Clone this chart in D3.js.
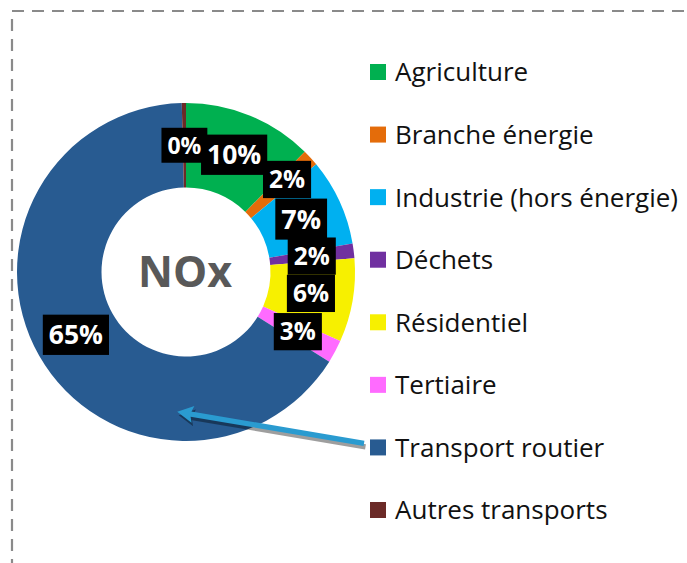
<!DOCTYPE html>
<html><head><meta charset="utf-8">
<script src="https://cdn.jsdelivr.net/npm/d3@7"></script>
<style>
html,body{margin:0;padding:0;background:#fff;}
svg{display:block;}
</style></head>
<body>
<svg id="chart" width="687" height="563"></svg>
<script>
// ---- data ----
const categories = ["Agriculture","Branche énergie","Industrie (hors énergie)","Déchets","Résidentiel","Tertiaire","Transport routier","Autres transports"];
const shares = [12.4, 1.6, 8.3, 1.4, 8.0, 2.2, 65.7, 0.4];
const shareLabels = ["10%","2%","7%","2%","6%","3%","65%","0%"];
const centerTitle = "NOx";
const colors = ["#00b050","#e46c0a","#00b0f0","#7030a0","#f7f000","#ff6bff","#285b91","#6b2a27"];

// ---- drawing ----
const W = 687, H = 563;
const svg = d3.select("#chart");
const cx = 186, cy = 272, R = 169, r0 = 84.5;
const font = "'Open Sans', sans-serif";

// dashed frame
svg.append("rect").attr("x",12).attr("y",11).attr("width",W+20).attr("height",H+20)
  .attr("fill","none").attr("stroke","#8a8a8a").attr("stroke-width",2.2)
  .attr("stroke-dasharray","12,8");

const data = categories.map((c,i)=>({cat:c, value:shares[i], label:shareLabels[i], color:colors[i]}));
const pie = d3.pie().sort(null).value(d=>d.value).startAngle(0).endAngle(2*Math.PI);
const arcs = pie(data);
const arc = d3.arc().innerRadius(r0).outerRadius(R);

const g = svg.append("g").attr("transform",`translate(${cx},${cy})`);
g.selectAll("path.slice").data(arcs).join("path").attr("class","slice")
  .attr("d",arc).attr("fill",d=>d.data.color);

// legend
const legY = d3.scalePoint().domain(categories).range([72,510]);
const leg = svg.append("g");
const li = leg.selectAll("g").data(data).join("g")
  .attr("transform",d=>`translate(370,${legY(d.cat)})`);
li.append("rect").attr("x",0).attr("y",-8).attr("width",16).attr("height",16).attr("fill",d=>d.color);
li.append("text").attr("x",25).attr("y",0).attr("dy","0.36em")
  .attr("font-family",font).attr("font-size",26).attr("fill","#111")
  .text(d=>d.cat);

// arrow from legend (Transport routier) to its slice
const tr = "Transport routier";
const tail = [364, legY(tr) - 4];
const tipAngle = Math.PI*1.02, tipR = 140;
const tip = [cx + tipR*Math.sin(tipAngle), cy - tipR*Math.cos(tipAngle)];
function arrowPath(t0, t1, offx, offy){
  const dx=t0[0]-t1[0], dy=t0[1]-t1[1], L=Math.hypot(dx,dy);
  const ux=dx/L, uy=dy/L, nx=-uy, ny=ux;
  const hl=16, hw=8.5, sw=2.6;
  const p = (x,y)=>[x+offx,y+offy];
  const bx=t1[0]+ux*hl, by=t1[1]+uy*hl;
  const pts=[p(t1[0],t1[1]), p(bx+nx*hw,by+ny*hw), p(bx+ux*-2+nx*sw,by+uy*-2+ny*sw),
    p(t0[0]+nx*sw,t0[1]+ny*sw), p(t0[0]-nx*sw,t0[1]-ny*sw),
    p(bx+ux*-2-nx*sw,by+uy*-2-ny*sw), p(bx-nx*hw,by-ny*hw)];
  return d3.line()(pts)+"Z";
}
svg.append("path").attr("d",arrowPath(tail,tip,1.5,3.5)).attr("fill","rgba(0,0,0,0.38)");
svg.append("path").attr("d",arrowPath(tail,tip,0,0)).attr("fill","#2a9bd0");

// center title
svg.append("text").attr("x",cx-1).attr("y",cy).attr("dy","0.36em").attr("text-anchor","middle")
  .attr("font-family",font).attr("font-weight",700).attr("font-size",43).attr("fill","#595959")
  .text(centerTitle);

// data labels (black boxes)
const labelRadius = {"Branche énergie":137};
const labelSize = {"Agriculture":26.5,"Industrie (hors énergie)":27,"Transport routier":26.5,"Autres transports":23};
const lab = svg.append("g");
arcs.forEach(a=>{
  const mid=(a.startAngle+a.endAngle)/2;
  const rr = labelRadius[a.data.cat] || (R+r0)/2;
  const x = cx + rr*Math.sin(mid), y = cy - rr*Math.cos(mid);
  const fs = labelSize[a.data.cat] || 24.5;
  const gg = lab.append("g").attr("transform",`translate(${x},${y})`);
  const rect = gg.append("rect").attr("fill","#000");
  const t = gg.append("text").attr("text-anchor","middle").attr("dy","0.36em")
    .attr("font-family",font).attr("font-weight",700).attr("font-size",fs).attr("fill","#fff")
    .text(a.data.label);
  const tw = t.node().getComputedTextLength();
  const bh = fs*1.52;
  rect.attr("x",-tw/2-6).attr("y",-bh/2).attr("width",tw+12).attr("height",bh);
});
</script>
</body></html>
